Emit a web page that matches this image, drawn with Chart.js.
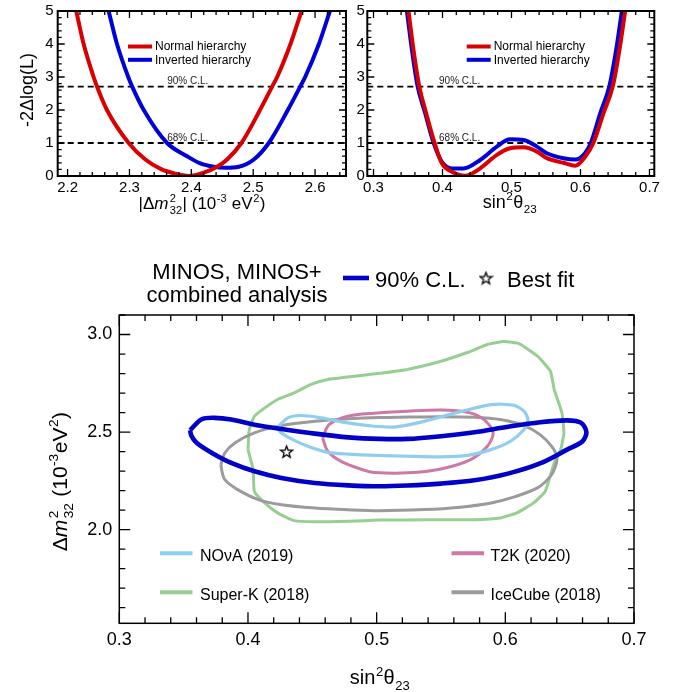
<!DOCTYPE html>
<html>
<head>
<meta charset="utf-8">
<script src="https://cdn.jsdelivr.net/npm/chart.js@4.4.0/dist/chart.umd.min.js"></script>
<style>
  html, body { margin: 0; padding: 0; background: #fff; }
  body { width: 677px; height: 692px; position: relative; overflow: hidden; }
  .box { position: absolute; }
</style>
</head>
<body>
<div class="box" style="left:0;top:0;width:350px;height:225px"><canvas id="massChart"></canvas></div>
<div class="box" style="left:340px;top:0;width:337px;height:225px"><canvas id="angleChart"></canvas></div>
<div class="box" style="left:0;top:230px;width:677px;height:462px"><canvas id="contourChart"></canvas></div>
<script>
// ── MINOS / MINOS+ oscillation fit ──
const FAMILY = "'Liberation Sans', Arial, Helvetica, sans-serif";
Chart.defaults.font.family = FAMILY;
Chart.defaults.color = '#000';

// top panels: -2Δlog(L) profiles
const massRange = [2.184, 2.65];
const massTicks = [2.2, 2.3, 2.4, 2.5, 2.6];
const thetaRangeTop = [0.291, 0.707];
const thetaTicksTop = [0.3, 0.4, 0.5, 0.6, 0.7];
const llRange = [0, 5];
const llTicks = [0, 1, 2, 3, 4, 5];
const clLevels = [2.71, 1.0];
const clNames = ['90% C.L.', '68% C.L.'];
const hierarchyNames = ['Normal hierarchy', 'Inverted hierarchy'];
const hierarchyColors = ['#d80000', '#0000d8'];

const nhMassX = [2.2140, 2.2259, 2.2421, 2.2475, 2.2636, 2.2987, 2.3257, 2.3520, 2.3720, 2.3958, 2.4200, 2.4416, 2.4578, 2.4810, 2.5110, 2.5306, 2.5387, 2.5603, 2.5781];
const nhMassY = [5.0, 4.0, 3.0, 2.71, 2.0, 1.0, 0.5, 0.2, 0.08, 0.0, 0.1, 0.28, 0.5, 1.0, 2.0, 2.71, 3.0, 4.0, 5.0];
const ihMassX = [2.2663, 2.2798, 2.2980, 2.3044, 2.3231, 2.3608, 2.3931, 2.4147, 2.4360, 2.4550, 2.4767, 2.5010, 2.5252, 2.5560, 2.5760, 2.5840, 2.6062, 2.6240];
const ihMassY = [5.0, 4.0, 3.0, 2.71, 2.0, 1.0, 0.6, 0.38, 0.28, 0.25, 0.28, 0.5, 1.0, 2.0, 2.71, 3.0, 4.0, 5.0];

const nhThetaX = [0.3507, 0.3580, 0.3662, 0.3764, 0.3884, 0.3991, 0.4136, 0.4329, 0.4546, 0.4788, 0.4981, 0.5174, 0.5368, 0.5513, 0.5754, 0.5923, 0.6068, 0.6188, 0.6333, 0.6470, 0.6565, 0.6648];
const nhThetaY = [5.0, 3.82, 2.73, 1.9, 1.01, 0.385, 0.13, 0.01, 0.23, 0.64, 0.84, 0.87, 0.74, 0.54, 0.40, 0.31, 0.585, 1.01, 1.9, 2.73, 3.82, 5.0];
const ihThetaX = [0.3484, 0.3557, 0.3638, 0.3749, 0.3870, 0.3991, 0.4136, 0.4304, 0.4546, 0.4788, 0.4981, 0.5174, 0.5368, 0.5513, 0.5754, 0.5923, 0.6068, 0.6151, 0.6286, 0.6420, 0.6517, 0.6600];
const ihThetaY = [5.0, 3.82, 2.73, 1.9, 1.01, 0.43, 0.23, 0.23, 0.485, 0.89, 1.11, 1.09, 0.89, 0.69, 0.54, 0.5, 0.70, 1.01, 1.9, 2.73, 3.82, 5.0];

// bottom panel: 90% C.L. contours
const sinRange = [0.3, 0.7];
const sinTicks = [0.3, 0.4, 0.5, 0.6, 0.7];
const dmRange = [1.52, 3.1];
const dmTicks = [2.0, 2.5, 3.0];

const minosX = [0.355, 0.364, 0.374, 0.387, 0.405, 0.426, 0.452, 0.478, 0.502, 0.524, 0.550, 0.576, 0.602, 0.627, 0.648, 0.659, 0.663, 0.660, 0.648, 0.628, 0.602, 0.576, 0.550, 0.524, 0.502, 0.478, 0.452, 0.426, 0.405, 0.387, 0.372, 0.360, 0.356];
const minosY = [2.510, 2.566, 2.573, 2.564, 2.538, 2.516, 2.492, 2.473, 2.465, 2.465, 2.479, 2.499, 2.527, 2.550, 2.560, 2.547, 2.500, 2.453, 2.410, 2.342, 2.287, 2.253, 2.236, 2.226, 2.222, 2.227, 2.239, 2.265, 2.299, 2.342, 2.393, 2.445, 2.482];

const iceX = [0.379, 0.382, 0.390, 0.405, 0.426, 0.452, 0.478, 0.502, 0.524, 0.550, 0.576, 0.596, 0.6145, 0.627, 0.636, 0.640, 0.639, 0.635, 0.625, 0.607, 0.589, 0.563, 0.537, 0.502, 0.478, 0.452, 0.426, 0.408, 0.392, 0.382, 0.3795];
const iceY = [2.333, 2.393, 2.445, 2.496, 2.533, 2.555, 2.568, 2.575, 2.577, 2.579, 2.576, 2.564, 2.533, 2.487, 2.427, 2.376, 2.325, 2.273, 2.214, 2.168, 2.137, 2.114, 2.103, 2.097, 2.102, 2.111, 2.128, 2.154, 2.205, 2.256, 2.308];

const superKX = [0.400, 0.401, 0.405, 0.412, 0.423, 0.436, 0.449, 0.462, 0.483, 0.502, 0.524, 0.550, 0.571, 0.586, 0.599, 0.611, 0.625, 0.635, 0.638, 0.644, 0.6455, 0.643, 0.638, 0.631, 0.622, 0.609, 0.596, 0.576, 0.550, 0.524, 0.502, 0.478, 0.452, 0.436, 0.423, 0.413, 0.405, 0.404];
const superKY = [2.410, 2.513, 2.581, 2.619, 2.667, 2.701, 2.744, 2.769, 2.786, 2.801, 2.821, 2.863, 2.909, 2.949, 2.964, 2.952, 2.889, 2.812, 2.718, 2.598, 2.496, 2.410, 2.342, 2.196, 2.137, 2.086, 2.060, 2.051, 2.051, 2.050, 2.049, 2.043, 2.040, 2.046, 2.086, 2.137, 2.196, 2.308];

const novaX = [0.4225, 0.431, 0.441, 0.457, 0.4775, 0.498, 0.515, 0.537, 0.563, 0.589, 0.607, 0.6145, 0.6176, 0.6145, 0.604, 0.589, 0.571, 0.550, 0.524, 0.502, 0.4775, 0.462, 0.4465, 0.4336, 0.426];
const novaY = [2.521, 2.573, 2.585, 2.573, 2.547, 2.530, 2.527, 2.555, 2.601, 2.641, 2.637, 2.607, 2.564, 2.513, 2.453, 2.410, 2.381, 2.373, 2.376, 2.380, 2.387, 2.396, 2.427, 2.465, 2.496];

const t2kX = [0.458, 0.463, 0.4775, 0.498, 0.524, 0.550, 0.571, 0.5835, 0.5905, 0.586, 0.573, 0.550, 0.524, 0.498, 0.490, 0.4724, 0.462];
const t2kY = [2.470, 2.538, 2.581, 2.597, 2.607, 2.613, 2.601, 2.564, 2.496, 2.427, 2.359, 2.311, 2.291, 2.293, 2.305, 2.350, 2.402];

const bestFitX = [0.43];
const bestFitY = [2.40];

const experiments = ['NOνA (2019)', 'T2K (2020)', 'Super-K (2018)', 'IceCube (2018)'];
const expColors = ['#8fcdf1', '#cc79a7', '#97cf92', '#9b9b9b'];
const minosColor = '#0000c8';

// ── helpers ──
const pts = (xs, ys) => xs.map((x, i) => ({ x, y: ys[i] }));
const loop = (xs, ys) => { const p = pts(xs, ys); p.push({ ...p[0] }); return p; };
const fnt = (size, italic) => (italic ? 'italic ' : '') + size + 'px ' + FAMILY;

function steps(lo, hi, step) {
  const out = [];
  for (let k = Math.ceil(lo / step - 1e-6); k * step <= hi + 1e-9; k++) out.push(+(k * step).toFixed(4));
  return out;
}

function axis(range, ticks, digits, size, pad, fit) {
  return {
    type: 'linear', min: range[0], max: range[1],
    grid: { display: false, drawTicks: false },
    border: { display: false },
    ticks: { font: { size }, color: '#000', padding: pad, autoSkip: false, maxRotation: 0,
      callback: v => v.toFixed(digits) },
    afterBuildTicks: s => { s.ticks = ticks.map(v => ({ value: v })); },
    afterFit: s => {
      fit(s);
      s.paddingLeft = s.paddingRight = s.paddingTop = s.paddingBottom = 0;
    }
  };
}

function partWidth(ctx, p, size) {
  if (typeof p === 'string') { ctx.font = fnt(size); return ctx.measureText(p).width; }
  if (p.it) { ctx.font = fnt(size, true); return ctx.measureText(p.it).width + size * 0.05; }
  ctx.font = fnt(size * 0.65);
  return Math.max(p.sup ? ctx.measureText(p.sup).width : 0, p.sub ? ctx.measureText(p.sub).width : 0) + 1;
}

// text with super/subscripts, centred on x
function drawRich(ctx, parts, x, y, size, rot) {
  ctx.save();
  ctx.translate(x, y);
  if (rot) ctx.rotate(rot);
  ctx.textAlign = 'left';
  ctx.textBaseline = 'alphabetic';
  ctx.fillStyle = '#000';
  let cx = -parts.reduce((w, p) => w + partWidth(ctx, p, size), 0) / 2;
  parts.forEach(p => {
    const w = partWidth(ctx, p, size);
    if (typeof p === 'string') { ctx.font = fnt(size); ctx.fillText(p, cx, 0); }
    else if (p.it) { ctx.font = fnt(size, true); ctx.fillText(p.it, cx, 0); }
    else {
      ctx.font = fnt(size * 0.65);
      if (p.sup) ctx.fillText(p.sup, cx + 0.5, -size * 0.42);
      if (p.sub) ctx.fillText(p.sub, cx + 0.5, size * 0.3);
    }
    cx += w;
  });
  ctx.restore();
}

function drawFrame(chart, f) {
  const { ctx, chartArea: a } = chart;
  const sx = chart.scales.x, sy = chart.scales.y;
  ctx.save();
  ctx.strokeStyle = '#000';
  ctx.lineWidth = f.frameWidth;
  ctx.strokeRect(a.left, a.top, a.right - a.left, a.bottom - a.top);
  ctx.lineWidth = f.tickWidth;
  ctx.beginPath();
  const xt = (vals, len) => vals.forEach(v => {
    const px = sx.getPixelForValue(v);
    ctx.moveTo(px, a.bottom); ctx.lineTo(px, a.bottom - len);
    ctx.moveTo(px, a.top); ctx.lineTo(px, a.top + len);
  });
  const yt = (vals, len) => vals.forEach(v => {
    const py = sy.getPixelForValue(v);
    ctx.moveTo(a.left, py); ctx.lineTo(a.left + len, py);
    ctx.moveTo(a.right, py); ctx.lineTo(a.right - len, py);
  });
  xt(steps(sx.min, sx.max, f.xMinor), f.minorLen);
  xt(f.xMajor, f.majorLen);
  yt(steps(sy.min, sy.max, f.yMinor), f.minorLen);
  yt(f.yMajor, f.majorLen);
  ctx.stroke();
  ctx.restore();
}

function starImage(size, lw) {
  const c = document.createElement('canvas');
  c.width = c.height = size;
  const g = c.getContext('2d');
  const r = size / 2 - lw, ri = r * 0.42, cx = size / 2, cy = size / 2 + r * 0.1;
  g.beginPath();
  for (let k = 0; k < 10; k++) {
    const ang = -Math.PI / 2 + k * Math.PI / 5;
    const rr = k % 2 ? ri : r;
    g.lineTo(cx + rr * Math.cos(ang), cy + rr * Math.sin(ang));
  }
  g.closePath();
  g.fillStyle = '#fff'; g.fill();
  g.lineWidth = lw; g.strokeStyle = '#000'; g.stroke();
  return c;
}
const starImg = starImage(15, 1.3);

function curve(xs, ys, color) {
  return { data: pts(xs, ys), showLine: true, borderColor: color, borderWidth: 4,
    pointRadius: 0, cubicInterpolationMode: 'monotone', fill: false };
}
function clLine(range, level) {
  return { data: [{ x: range[0], y: level }, { x: range[1], y: level }], showLine: true,
    borderColor: '#000', borderWidth: 1.8, borderDash: [6, 4], pointRadius: 0 };
}
function contour(xs, ys, color, width, tension) {
  return { data: loop(xs, ys), showLine: true, borderColor: color, borderWidth: width,
    pointRadius: 0, tension, borderJoinStyle: 'round', fill: false };
}

function hierarchyLegend(ctx, x0, y0) {
  hierarchyNames.forEach((name, i) => {
    const y = y0 + i * 13.3;
    ctx.strokeStyle = hierarchyColors[i];
    ctx.lineWidth = 4;
    ctx.beginPath(); ctx.moveTo(x0, y); ctx.lineTo(x0 + 24, y); ctx.stroke();
    ctx.fillStyle = '#000';
    ctx.font = fnt(12);
    ctx.textAlign = 'left';
    ctx.textBaseline = 'middle';
    ctx.fillText(name, x0 + 27, y + 0.5);
  });
}

function clText(chart, xVal) {
  const { ctx } = chart;
  ctx.save();
  ctx.fillStyle = '#222';
  ctx.font = fnt(10);
  ctx.textAlign = 'left';
  ctx.textBaseline = 'alphabetic';
  clLevels.forEach((lvl, i) => {
    ctx.fillText(clNames[i], chart.scales.x.getPixelForValue(xVal), chart.scales.y.getPixelForValue(lvl) - 2.5);
  });
  ctx.restore();
}

const topFrame = { frameWidth: 2, tickWidth: 1.3, majorLen: 7, minorLen: 4, yMinor: 0.2, yMajor: llTicks, xMinor: 0.02 };
const baseOpts = {
  responsive: true, maintainAspectRatio: false, animation: false, events: [],
  plugins: { legend: { display: false }, tooltip: { enabled: false } }
};

// ── top left: |Δm²32| profile ──
new Chart(document.getElementById('massChart'), {
  type: 'scatter',
  data: { datasets: [
    curve(nhMassX, nhMassY, hierarchyColors[0]),
    curve(ihMassX, ihMassY, hierarchyColors[1]),
    clLine(massRange, clLevels[0]),
    clLine(massRange, clLevels[1])
  ] },
  options: { ...baseOpts,
    layout: { padding: { left: 0, top: 11, right: 4, bottom: 0 } },
    scales: {
      x: axis(massRange, massTicks, 1, 15, 3, s => { s.height = 49; }),
      y: axis(llRange, llTicks, 0, 15, 4, s => { s.width = 57.7; })
    }
  },
  plugins: [{
    id: 'massDecor',
    afterDatasetsDraw(chart) {
      const { ctx } = chart;
      drawFrame(chart, { ...topFrame, xMajor: massTicks });
      clText(chart, 2.361);
      ctx.save();
      hierarchyLegend(ctx, 128, 46.5);
      ctx.restore();
      drawRich(ctx, ['|Δ', { it: 'm' }, { sup: '2', sub: '32' }, '| (10', { sup: '-3' }, ' eV', { sup: '2' }, ')'], 202, 209, 17);
      drawRich(ctx, ['-2Δlog(L)'], 33, 90, 18, -Math.PI / 2);
    }
  }]
});

// ── top right: sin²θ23 profile ──
new Chart(document.getElementById('angleChart'), {
  type: 'scatter',
  data: { datasets: [
    curve(nhThetaX, nhThetaY, hierarchyColors[0]),
    curve(ihThetaX, ihThetaY, hierarchyColors[1]),
    clLine(thetaRangeTop, clLevels[0]),
    clLine(thetaRangeTop, clLevels[1])
  ] },
  options: { ...baseOpts,
    layout: { padding: { left: 0, top: 11, right: 22.7, bottom: 0 } },
    scales: {
      x: axis(thetaRangeTop, thetaTicksTop, 1, 15, 3, s => { s.height = 49; }),
      y: axis(llRange, llTicks, 0, 15, 2.5, s => { s.width = 27.3; })
    }
  },
  plugins: [{
    id: 'angleDecor',
    afterDatasetsDraw(chart) {
      const { ctx } = chart;
      drawFrame(chart, { ...topFrame, xMajor: thetaTicksTop });
      clText(chart, 0.395);
      ctx.save();
      hierarchyLegend(ctx, 126.7, 46.5);
      ctx.restore();
      drawRich(ctx, ['sin', { sup: '2' }, 'θ', { sub: '23' }], 170, 208, 18);
    }
  }]
});

// ── bottom: 90% C.L. allowed regions ──
new Chart(document.getElementById('contourChart'), {
  type: 'scatter',
  data: { datasets: [
    { data: pts(bestFitX, bestFitY), pointStyle: starImg, pointRadius: 7 },
    contour(minosX, minosY, minosColor, 4.6, 0.3),
    contour(novaX, novaY, expColors[0], 3.2, 0.25),
    contour(t2kX, t2kY, expColors[1], 3, 0.3),
    contour(iceX, iceY, expColors[3], 3, 0.3),
    contour(superKX, superKY, expColors[2], 3, 0.15)
  ] },
  options: { ...baseOpts,
    layout: { padding: { left: 0, top: 85, right: 43, bottom: 0 } },
    scales: {
      x: axis(sinRange, sinTicks, 1, 18, 6, s => { s.height = 68.7; }),
      y: axis(dmRange, dmTicks, 1, 18, 7, s => { s.width = 119.3; })
    }
  },
  plugins: [{
    id: 'contourDecor',
    afterDatasetsDraw(chart) {
      const { ctx } = chart;
      drawFrame(chart, { frameWidth: 1.5, tickWidth: 1.3, majorLen: 11, minorLen: 6,
        xMinor: 0.02, xMajor: sinTicks, yMinor: 0.1, yMajor: dmTicks });

      ctx.save();
      // header
      ctx.fillStyle = '#000';
      ctx.font = fnt(22);
      ctx.textBaseline = 'alphabetic';
      ctx.textAlign = 'center';
      ctx.fillText('MINOS, MINOS+', 237, 49);
      ctx.fillText('combined analysis', 237, 71.5);
      ctx.textAlign = 'left';
      ctx.fillText('90% C.L.', 375, 57);
      ctx.fillText('Best fit', 507, 57);
      ctx.strokeStyle = minosColor;
      ctx.lineWidth = 4.6;
      ctx.beginPath(); ctx.moveTo(343, 48); ctx.lineTo(369, 48); ctx.stroke();
      ctx.drawImage(starImg, 486 - 7.5, 48 - 7.5);

      // experiments legend
      const lineX = [160, 451.5], textX = [200, 490.5], rowY = [323.3, 362.3];
      ctx.font = fnt(16);
      experiments.forEach((name, i) => {
        const col = i % 2, row = Math.floor(i / 2);
        ctx.strokeStyle = expColors[i];
        ctx.lineWidth = 4;
        ctx.beginPath(); ctx.moveTo(lineX[col], rowY[row]); ctx.lineTo(lineX[col] + 32.5, rowY[row]); ctx.stroke();
        ctx.fillStyle = '#000';
        ctx.fillText(name, textX[col], rowY[row] + 7.5);
      });
      ctx.restore();

      drawRich(ctx, ['sin', { sup: '2' }, 'θ', { sub: '23' }], 380, 454, 20);
      drawRich(ctx, ['Δ', { it: 'm' }, { sup: '2', sub: '32' }, ' (10', { sup: '-3' }, 'eV', { sup: '2' }, ')'], 66.7, 251.7, 21, -Math.PI / 2);
    }
  }]
});
</script>
</body>
</html>
